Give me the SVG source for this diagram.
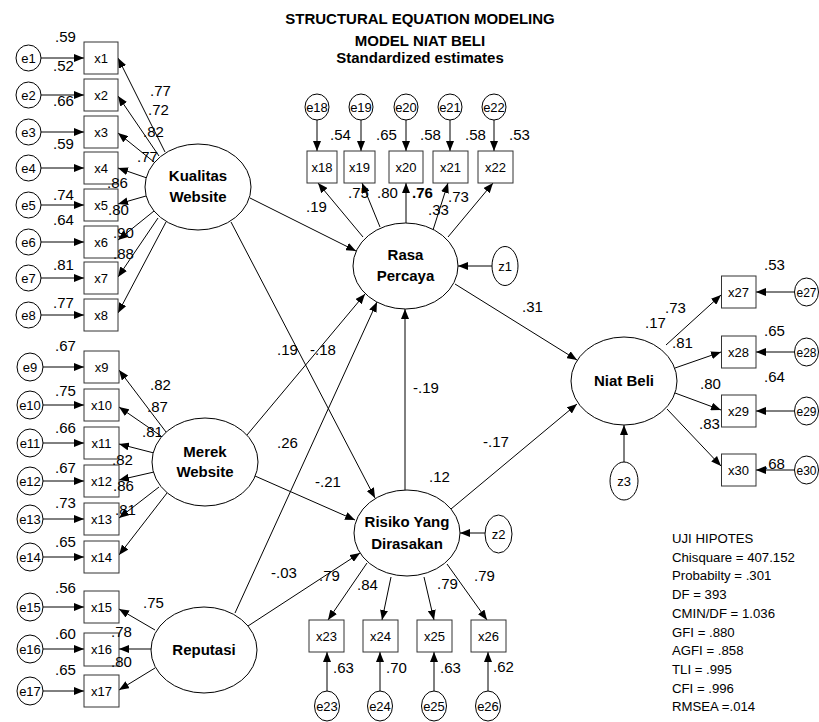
<svg xmlns="http://www.w3.org/2000/svg" width="819" height="722" viewBox="0 0 819 722">
<style>
.bg{fill:#fff}
.lv{fill:#fff;stroke:#000;stroke-width:1}
.er{fill:#fff;stroke:#000;stroke-width:1}
.bx{fill:#fff;stroke:#333;stroke-width:1}
.ln{fill:none;stroke:#000;stroke-width:1;marker-end:url(#ah)}
text{font-family:"Liberation Sans",Arial,sans-serif;fill:#000}
.nl{font-size:15px;font-weight:bold;text-anchor:middle}
.bl{font-size:13px;text-anchor:middle}
.el{font-size:13px;text-anchor:middle}
.er2{font-size:12px;text-anchor:middle}
.v{font-size:15px}
.ti{font-size:15px;font-weight:bold;text-anchor:middle}
.fit{font-size:13.2px}
</style>
<defs>
<marker id="ah" viewBox="0 0 10 8" refX="10" refY="4" markerWidth="10" markerHeight="8" markerUnits="userSpaceOnUse" orient="auto"><path d="M0,0L10,4L0,8z" fill="#000"/></marker>
</defs>
<rect class="bg" x="0" y="0" width="819" height="722"/>

<g id="title">
<text class="ti" x="420" y="24">STRUCTURAL EQUATION MODELING</text>
<text class="ti" x="420" y="46">MODEL NIAT BELI</text>
<text class="ti" x="420" y="63">Standardized estimates</text>
</g>

<g id="connectors">
<line class="ln" x1="41" y1="58" x2="84" y2="58"/>
<line class="ln" x1="41" y1="95" x2="84" y2="95"/>
<line class="ln" x1="41" y1="132" x2="84" y2="132"/>
<line class="ln" x1="41" y1="168" x2="84" y2="168"/>
<line class="ln" x1="41" y1="205" x2="84" y2="205"/>
<line class="ln" x1="41" y1="242" x2="84" y2="242"/>
<line class="ln" x1="41" y1="278" x2="84" y2="278"/>
<line class="ln" x1="41" y1="315" x2="84" y2="315"/>
<line class="ln" x1="43" y1="367" x2="84" y2="367"/>
<line class="ln" x1="43" y1="405" x2="84" y2="405"/>
<line class="ln" x1="43" y1="443" x2="84" y2="443"/>
<line class="ln" x1="43" y1="481" x2="84" y2="481"/>
<line class="ln" x1="43" y1="519" x2="84" y2="519"/>
<line class="ln" x1="43" y1="557" x2="84" y2="557"/>
<line class="ln" x1="43" y1="607" x2="84" y2="607"/>
<line class="ln" x1="43" y1="649" x2="84" y2="649"/>
<line class="ln" x1="43" y1="691" x2="84" y2="691"/>
<line class="ln" x1="165" y1="152" x2="118" y2="58"/>
<line class="ln" x1="159" y1="156" x2="118" y2="96"/>
<line class="ln" x1="154" y1="162" x2="118" y2="133"/>
<line class="ln" x1="147" y1="178" x2="118" y2="168"/>
<line class="ln" x1="146" y1="196" x2="118" y2="204"/>
<line class="ln" x1="154" y1="211" x2="118" y2="240"/>
<line class="ln" x1="158" y1="218" x2="118" y2="277"/>
<line class="ln" x1="166" y1="222" x2="118" y2="313"/>
<line class="ln" x1="166" y1="432" x2="119" y2="370"/>
<line class="ln" x1="161" y1="436" x2="119" y2="407"/>
<line class="ln" x1="154" y1="453" x2="119" y2="444"/>
<line class="ln" x1="154" y1="472" x2="119" y2="480"/>
<line class="ln" x1="159" y1="487" x2="119" y2="518"/>
<line class="ln" x1="167" y1="493" x2="119" y2="555"/>
<line class="ln" x1="155" y1="630" x2="119" y2="609"/>
<line class="ln" x1="152" y1="649" x2="119" y2="649"/>
<line class="ln" x1="155" y1="668" x2="119" y2="690"/>
<line class="ln" x1="250" y1="198" x2="356" y2="251"/>
<line class="ln" x1="231" y1="222" x2="375" y2="498"/>
<line class="ln" x1="247" y1="435" x2="365" y2="294"/>
<line class="ln" x1="235" y1="613" x2="377" y2="302"/>
<line class="ln" x1="255" y1="476" x2="355" y2="520"/>
<line class="ln" x1="248" y1="626" x2="360" y2="553"/>
<line class="ln" x1="405" y1="490" x2="405" y2="309"/>
<line class="ln" x1="455" y1="284" x2="577" y2="360"/>
<line class="ln" x1="451" y1="509" x2="577" y2="404"/>
<line class="ln" x1="492" y1="266" x2="458" y2="266"/>
<line class="ln" x1="485" y1="533" x2="460" y2="533"/>
<line class="ln" x1="624" y1="462" x2="624" y2="425"/>
<line class="ln" x1="363" y1="237" x2="318" y2="183"/>
<line class="ln" x1="380" y1="227" x2="362" y2="183"/>
<line class="ln" x1="406" y1="223" x2="406" y2="183"/>
<line class="ln" x1="433" y1="230" x2="448" y2="183"/>
<line class="ln" x1="448" y1="237" x2="493" y2="183"/>
<line class="ln" x1="317" y1="120" x2="317" y2="151"/>
<line class="ln" x1="361" y1="120" x2="361" y2="151"/>
<line class="ln" x1="406" y1="120" x2="406" y2="151"/>
<line class="ln" x1="450" y1="120" x2="450" y2="151"/>
<line class="ln" x1="494" y1="120" x2="494" y2="151"/>
<line class="ln" x1="367" y1="563" x2="328" y2="620"/>
<line class="ln" x1="391" y1="577" x2="382" y2="620"/>
<line class="ln" x1="424" y1="577" x2="434" y2="620"/>
<line class="ln" x1="447" y1="564" x2="487" y2="620"/>
<line class="ln" x1="327" y1="692" x2="327" y2="652"/>
<line class="ln" x1="380" y1="692" x2="380" y2="652"/>
<line class="ln" x1="434" y1="692" x2="434" y2="652"/>
<line class="ln" x1="488" y1="692" x2="488" y2="652"/>
<line class="ln" x1="666" y1="345" x2="721" y2="295"/>
<line class="ln" x1="675" y1="368" x2="721" y2="352"/>
<line class="ln" x1="675" y1="393" x2="721" y2="410"/>
<line class="ln" x1="667" y1="409" x2="721" y2="466"/>
<line class="ln" x1="794" y1="292" x2="756" y2="292"/>
<line class="ln" x1="794" y1="352" x2="756" y2="352"/>
<line class="ln" x1="794" y1="411" x2="756" y2="411"/>
<line class="ln" x1="794" y1="470" x2="756" y2="470"/>
</g>

<g id="kualitas"><ellipse class="lv" cx="198" cy="187" rx="53" ry="43"/><text class="nl" x="198" y="181">Kualitas</text><text class="nl" x="198" y="202">Website</text></g>
<g id="merek"><ellipse class="lv" cx="205" cy="462" rx="53" ry="44"/><text class="nl" x="205" y="457">Merek</text><text class="nl" x="205" y="477">Website</text></g>
<g id="reputasi"><ellipse class="lv" cx="204" cy="650" rx="53" ry="43"/><text class="nl" x="204" y="655">Reputasi</text></g>
<g id="rasa"><ellipse class="lv" cx="405.5" cy="266" rx="52.5" ry="43"/><text class="nl" x="405.5" y="260">Rasa</text><text class="nl" x="405.5" y="281">Percaya</text></g>
<g id="risiko"><ellipse class="lv" cx="407" cy="533" rx="53" ry="43"/><text class="nl" x="407" y="527">Risiko Yang</text><text class="nl" x="407" y="549">Dirasakan</text></g>
<g id="niat"><ellipse class="lv" cx="624" cy="381" rx="53" ry="44"/><text class="nl" x="624" y="386">Niat Beli</text></g>
<g id="z1"><ellipse class="er" cx="505" cy="266" rx="13" ry="19.5"/><text class="el" x="505" y="271">z1</text></g>
<g id="z2"><ellipse class="er" cx="498.5" cy="534" rx="13.5" ry="19"/><text class="el" x="498.5" y="539">z2</text></g>
<g id="z3"><ellipse class="er" cx="624" cy="481" rx="14" ry="19"/><text class="el" x="624" y="486">z3</text></g>

<g id="x1"><rect class="bx" x="84" y="42" width="34" height="32"/><text class="bl" x="101" y="63">x1</text></g>
<g id="x2"><rect class="bx" x="84" y="79" width="34" height="32"/><text class="bl" x="101" y="100">x2</text></g>
<g id="x3"><rect class="bx" x="84" y="116" width="34" height="32"/><text class="bl" x="101" y="137">x3</text></g>
<g id="x4"><rect class="bx" x="84" y="152" width="34" height="32"/><text class="bl" x="101" y="173">x4</text></g>
<g id="x5"><rect class="bx" x="84" y="189" width="34" height="32"/><text class="bl" x="101" y="210">x5</text></g>
<g id="x6"><rect class="bx" x="84" y="226" width="34" height="32"/><text class="bl" x="101" y="247">x6</text></g>
<g id="x7"><rect class="bx" x="84" y="262" width="34" height="32"/><text class="bl" x="101" y="283">x7</text></g>
<g id="x8"><rect class="bx" x="84" y="299" width="34" height="32"/><text class="bl" x="101" y="320">x8</text></g>
<g id="x9"><rect class="bx" x="84" y="351" width="35" height="32"/><text class="bl" x="101.5" y="372">x9</text></g>
<g id="x10"><rect class="bx" x="84" y="389" width="35" height="32"/><text class="bl" x="101.5" y="410">x10</text></g>
<g id="x11"><rect class="bx" x="84" y="427" width="35" height="32"/><text class="bl" x="101.5" y="448">x11</text></g>
<g id="x12"><rect class="bx" x="84" y="465" width="35" height="32"/><text class="bl" x="101.5" y="486">x12</text></g>
<g id="x13"><rect class="bx" x="84" y="503" width="35" height="32"/><text class="bl" x="101.5" y="524">x13</text></g>
<g id="x14"><rect class="bx" x="84" y="541" width="35" height="32"/><text class="bl" x="101.5" y="562">x14</text></g>
<g id="x15"><rect class="bx" x="84" y="591" width="35" height="32"/><text class="bl" x="101.5" y="612">x15</text></g>
<g id="x16"><rect class="bx" x="84" y="633" width="35" height="33"/><text class="bl" x="101.5" y="654">x16</text></g>
<g id="x17"><rect class="bx" x="84" y="675" width="35" height="32"/><text class="bl" x="101.5" y="696">x17</text></g>

<g id="e1"><ellipse class="er" cx="28.5" cy="58" rx="12.5" ry="13"/><text class="el" x="28.5" y="63">e1</text></g>
<g id="e2"><ellipse class="er" cx="28.5" cy="95" rx="12.5" ry="13"/><text class="el" x="28.5" y="100">e2</text></g>
<g id="e3"><ellipse class="er" cx="28.5" cy="132" rx="12.5" ry="13"/><text class="el" x="28.5" y="137">e3</text></g>
<g id="e4"><ellipse class="er" cx="28.5" cy="168" rx="12.5" ry="13"/><text class="el" x="28.5" y="173">e4</text></g>
<g id="e5"><ellipse class="er" cx="28.5" cy="205" rx="12.5" ry="13"/><text class="el" x="28.5" y="210">e5</text></g>
<g id="e6"><ellipse class="er" cx="28.5" cy="242" rx="12.5" ry="13"/><text class="el" x="28.5" y="247">e6</text></g>
<g id="e7"><ellipse class="er" cx="28.5" cy="278" rx="12.5" ry="13"/><text class="el" x="28.5" y="283">e7</text></g>
<g id="e8"><ellipse class="er" cx="28.5" cy="315" rx="12.5" ry="13"/><text class="el" x="28.5" y="320">e8</text></g>
<g id="e9"><ellipse class="er" cx="30" cy="367" rx="13" ry="14"/><text class="el" x="30" y="372">e9</text></g>
<g id="e10"><ellipse class="er" cx="30" cy="405" rx="13" ry="14"/><text class="el" x="30" y="410">e10</text></g>
<g id="e11"><ellipse class="er" cx="30" cy="443" rx="13" ry="14"/><text class="el" x="30" y="448">e11</text></g>
<g id="e12"><ellipse class="er" cx="30" cy="481" rx="13" ry="14"/><text class="el" x="30" y="486">e12</text></g>
<g id="e13"><ellipse class="er" cx="30" cy="519" rx="13" ry="14"/><text class="el" x="30" y="524">e13</text></g>
<g id="e14"><ellipse class="er" cx="30" cy="557" rx="13" ry="14"/><text class="el" x="30" y="562">e14</text></g>
<g id="e15"><ellipse class="er" cx="30" cy="607" rx="13" ry="14"/><text class="el" x="30" y="612">e15</text></g>
<g id="e16"><ellipse class="er" cx="30" cy="649" rx="13" ry="14"/><text class="el" x="30" y="654">e16</text></g>
<g id="e17"><ellipse class="er" cx="30" cy="691" rx="13" ry="14"/><text class="el" x="30" y="696">e17</text></g>

<g id="x18"><rect class="bx" x="307" y="151" width="30" height="32"/><text class="bl" x="322" y="172">x18</text></g>
<g id="x19"><rect class="bx" x="344" y="151" width="31" height="32"/><text class="bl" x="359.5" y="172">x19</text></g>
<g id="x20"><rect class="bx" x="389" y="151" width="34" height="32"/><text class="bl" x="406" y="172">x20</text></g>
<g id="x21"><rect class="bx" x="433" y="151" width="35" height="32"/><text class="bl" x="450.5" y="172">x21</text></g>
<g id="x22"><rect class="bx" x="478" y="151" width="35" height="32"/><text class="bl" x="495.5" y="172">x22</text></g>
<g id="e18"><ellipse class="er" cx="317" cy="107" rx="12" ry="13"/><text class="el" x="317" y="112">e18</text></g>
<g id="e19"><ellipse class="er" cx="361" cy="107" rx="12" ry="13"/><text class="el" x="361" y="112">e19</text></g>
<g id="e20"><ellipse class="er" cx="406" cy="107" rx="12" ry="13"/><text class="el" x="406" y="112">e20</text></g>
<g id="e21"><ellipse class="er" cx="450" cy="107" rx="12" ry="13"/><text class="el" x="450" y="112">e21</text></g>
<g id="e22"><ellipse class="er" cx="494" cy="107" rx="12" ry="13"/><text class="el" x="494" y="112">e22</text></g>

<g id="x23"><rect class="bx" x="309" y="620" width="35" height="32"/><text class="bl" x="326.5" y="641">x23</text></g>
<g id="x24"><rect class="bx" x="363" y="620" width="35" height="32"/><text class="bl" x="380.5" y="641">x24</text></g>
<g id="x25"><rect class="bx" x="417" y="620" width="35" height="32"/><text class="bl" x="434.5" y="641">x25</text></g>
<g id="x26"><rect class="bx" x="471" y="620" width="35" height="32"/><text class="bl" x="488.5" y="641">x26</text></g>
<g id="e23"><ellipse class="er" cx="327" cy="706" rx="12.5" ry="15"/><text class="el" x="327" y="711">e23</text></g>
<g id="e24"><ellipse class="er" cx="380" cy="706" rx="12.5" ry="15"/><text class="el" x="380" y="711">e24</text></g>
<g id="e25"><ellipse class="er" cx="434" cy="706" rx="12.5" ry="15"/><text class="el" x="434" y="711">e25</text></g>
<g id="e26"><ellipse class="er" cx="488" cy="706" rx="12.5" ry="15"/><text class="el" x="488" y="711">e26</text></g>

<g id="x27"><rect class="bx" x="721.5" y="276" width="34.5" height="32"/><text class="bl" x="738.5" y="297">x27</text></g>
<g id="x28"><rect class="bx" x="721.5" y="336" width="34.5" height="32"/><text class="bl" x="738.5" y="357">x28</text></g>
<g id="x29"><rect class="bx" x="721.5" y="395" width="34.5" height="32"/><text class="bl" x="738.5" y="416">x29</text></g>
<g id="x30"><rect class="bx" x="721.5" y="454" width="34.5" height="32"/><text class="bl" x="738.5" y="475">x30</text></g>
<g id="e27"><ellipse class="er" cx="806.5" cy="292" rx="12" ry="14"/><text class="er2" x="806.5" y="296.5">e27</text></g>
<g id="e28"><ellipse class="er" cx="806.5" cy="352" rx="12" ry="14"/><text class="er2" x="806.5" y="356.5">e28</text></g>
<g id="e29"><ellipse class="er" cx="806.5" cy="411" rx="12" ry="14"/><text class="er2" x="806.5" y="415.5">e29</text></g>
<g id="e30"><ellipse class="er" cx="806.5" cy="470" rx="12" ry="14"/><text class="er2" x="806.5" y="474.5">e30</text></g>

<g id="estimates">
<text class="v" x="55" y="42">.59</text>
<text class="v" x="53" y="71">.52</text>
<text class="v" x="53" y="106">.66</text>
<text class="v" x="53" y="149">.59</text>
<text class="v" x="53" y="200">.74</text>
<text class="v" x="53" y="225">.64</text>
<text class="v" x="53" y="270">.81</text>
<text class="v" x="53" y="308">.77</text>
<text class="v" x="150" y="96">.77</text>
<text class="v" x="148" y="115">.72</text>
<text class="v" x="143" y="137">.82</text>
<text class="v" x="137" y="162">.77</text>
<text class="v" x="107" y="188">.86</text>
<text class="v" x="108" y="215">.80</text>
<text class="v" x="113" y="238">.90</text>
<text class="v" x="113" y="259">.88</text>
<text class="v" x="55" y="351">.67</text>
<text class="v" x="55" y="396">.75</text>
<text class="v" x="55" y="433">.66</text>
<text class="v" x="55" y="473">.67</text>
<text class="v" x="55" y="508">.73</text>
<text class="v" x="55" y="547">.65</text>
<text class="v" x="150" y="390">.82</text>
<text class="v" x="147" y="412">.87</text>
<text class="v" x="142" y="437">.81</text>
<text class="v" x="112" y="465">.82</text>
<text class="v" x="113" y="491">.86</text>
<text class="v" x="115" y="515">.81</text>
<text class="v" x="55" y="593">.56</text>
<text class="v" x="55" y="639">.60</text>
<text class="v" x="55" y="675">.65</text>
<text class="v" x="143" y="608">.75</text>
<text class="v" x="111" y="637">.78</text>
<text class="v" x="111" y="667">.80</text>
<text class="v" x="330" y="140">.54</text>
<text class="v" x="376" y="140">.65</text>
<text class="v" x="420" y="140">.58</text>
<text class="v" x="465" y="140">.58</text>
<text class="v" x="509" y="140">.53</text>
<text class="v" x="306" y="212">.19</text>
<text class="v" x="348" y="198">.75</text>
<text class="v" x="377" y="198">.80</text>
<text class="v" x="412" y="198" font-weight="bold">.76</text>
<text class="v" x="448" y="202">.73</text>
<text class="v" x="428" y="215">.33</text>
<text class="v" x="522" y="312">.31</text>
<text class="v" x="277" y="355">.19</text>
<text class="v" x="310" y="355">-.18</text>
<text class="v" x="413" y="393">-.19</text>
<text class="v" x="277" y="448">.26</text>
<text class="v" x="483" y="447">-.17</text>
<text class="v" x="429" y="482">.12</text>
<text class="v" x="315" y="487">-.21</text>
<text class="v" x="271" y="578">-.03</text>
<text class="v" x="319" y="581">.79</text>
<text class="v" x="357" y="590">.84</text>
<text class="v" x="437" y="589">.79</text>
<text class="v" x="474" y="581">.79</text>
<text class="v" x="333" y="673">.63</text>
<text class="v" x="386" y="673">.70</text>
<text class="v" x="440" y="673">.63</text>
<text class="v" x="493" y="672">.62</text>
<text class="v" x="764" y="270">.53</text>
<text class="v" x="764" y="336">.65</text>
<text class="v" x="764" y="382">.64</text>
<text class="v" x="764" y="469">.68</text>
<text class="v" x="665" y="313">.73</text>
<text class="v" x="645" y="328">.17</text>
<text class="v" x="672" y="348">.81</text>
<text class="v" x="700" y="389">.80</text>
<text class="v" x="699" y="429">.83</text>
</g>

<g id="fit">
<text class="fit" x="672" y="543">UJI HIPOTES</text>
<text class="fit" x="672" y="562">Chisquare = 407.152</text>
<text class="fit" x="672" y="580">Probabilty = .301</text>
<text class="fit" x="672" y="599">DF = 393</text>
<text class="fit" x="672" y="618">CMIN/DF = 1.036</text>
<text class="fit" x="672" y="636.5">GFI = .880</text>
<text class="fit" x="672" y="655">AGFI = .858</text>
<text class="fit" x="672" y="674">TLI = .995</text>
<text class="fit" x="672" y="692.5">CFI = .996</text>
<text class="fit" x="672" y="711">RMSEA =.014</text>
</g>
</svg>
